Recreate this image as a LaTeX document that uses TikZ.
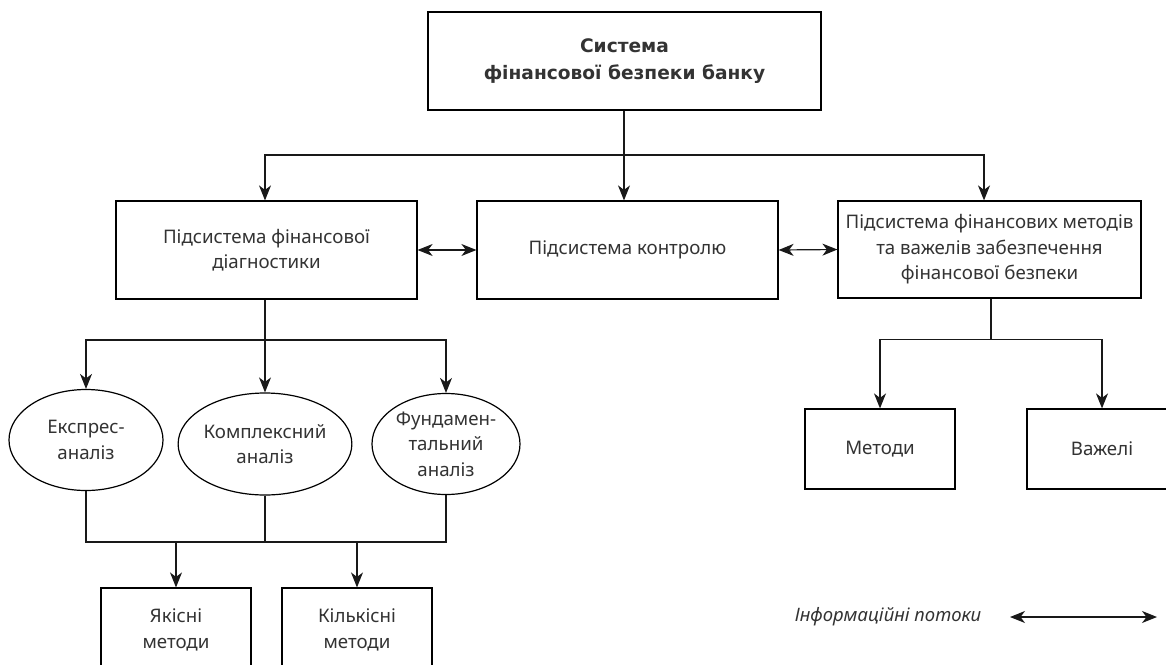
\documentclass[tikz,border=0pt]{standalone}
\usepackage{fontspec}
\setmainfont{Noto Sans}
\newfontfamily\headfont{DejaVu Sans}
\usetikzlibrary{arrows.meta,shapes.geometric}
\tikzset{
  every picture/.style={x=1pt,y=-1pt},
  lbl/.style={font=\fontsize{18.7}{25.5}\selectfont,text=black!80,align=center,inner sep=0pt},
  box/.style={lbl,draw,rectangle,line width=1.2pt},
  oval/.style={lbl,draw,ellipse,line width=1.2pt},
  conn/.style={line width=1.2pt,black!90},
  arr/.style={conn,-{Stealth[length=15pt,width=12pt,inset=4.5pt]}},
  biarr/.style={conn,{Stealth[length=15pt,width=12pt,inset=4.5pt]}-{Stealth[length=15pt,width=12pt,inset=4.5pt]}}
}
\begin{document}
\begin{tikzpicture}
\useasboundingbox (0,0) rectangle (1166,664);
% top level
\node[box,minimum width=393,minimum height=98,font=\headfont\bfseries\fontsize{18.6}{27}\selectfont] (sys) at (624.5,61) {Система\\фінансової безпеки банку};
% subsystems
\node[box,minimum width=301,minimum height=98] (diag) at (266.5,250) {Підсистема фінансової\\діагностики};
\node[box,minimum width=301,minimum height=98] (ctrl) at (627.5,250) {Підсистема контролю};
\node[box,minimum width=303,minimum height=97] (fin) at (989.5,249.5) {Підсистема фінансових методів\\та важелів забезпечення\\фінансової безпеки};
\coordinate (jsys) at (624,155);
\draw[conn] (sys.south -| jsys) -- (jsys);
\draw[arr] (jsys) -| ([xshift=-1.5]diag.north);
\draw[arr] (jsys) -- (jsys |- ctrl.north);
\draw[arr] (jsys) -| ([xshift=-5.5]fin.north);
\draw[biarr] (diag.east) -- (ctrl.west);
\draw[biarr] (ctrl.east) -- (fin.west);
% analysis
\node[oval,minimum width=154,minimum height=101] (expr) at (86,440) {Експрес-\\аналіз};
\node[oval,minimum width=154,minimum height=102] (kompl) at (265,444) {Комплексний\\аналіз};
\node[oval,minimum width=148,minimum height=101] (fund) at (446,444) {Фундамен-\\тальний\\аналіз};
\draw[conn] ([xshift=-1.5]diag.south) -- (265,340) coordinate (jdiag);
\draw[arr] (jdiag) -| (expr.north);
\draw[arr] (jdiag) -- (kompl.north);
\draw[arr] (jdiag) -| (fund.north);
% methods of analysis
\node[box,minimum width=150,minimum height=84] (yak) at (176,630) {Якісні\\методи};
\node[box,minimum width=150,minimum height=84] (kil) at (357,630) {Кількісні\\методи};
\coordinate (jan) at (265,542);
\draw[conn] (expr.south) |- (jan -| fund.south) -- (fund.south);
\draw[conn] (kompl.south) -- (kompl.south |- jan);
\draw[arr] (yak.north |- jan) -- (yak.north);
\draw[arr] (kil.north |- jan) -- (kil.north);
% methods and levers
\node[box,minimum width=150,minimum height=80] (met) at (880,449) {Методи};
\node[box,minimum width=150,minimum height=80] (vaz) at (1102,449) {Важелі};
\draw[conn] ([xshift=1.5]fin.south) -- ++(0,41) coordinate (jfin);
\draw[arr] (jfin) -| (met.north);
\draw[arr] (jfin) -| (vaz.north);
% legend
\node[lbl,font=\fontsize{18.5}{25.5}\selectfont\itshape] (leg) at (888,617) {Інформаційні потоки};
\coordinate (la) at (1010,617);
\coordinate (lb) at (1157,617);
\draw[biarr] (la) -- (lb);
\end{tikzpicture}
\end{document}
